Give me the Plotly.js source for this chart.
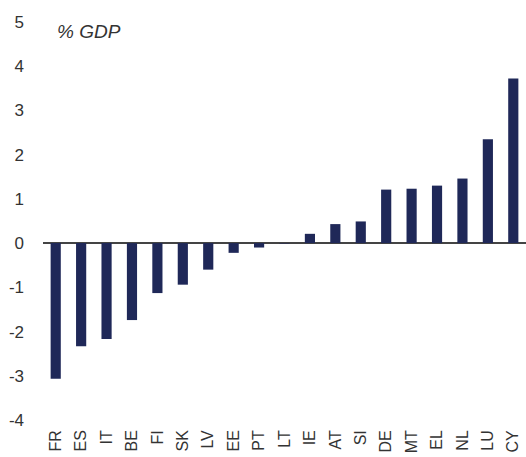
<!DOCTYPE html>
<html>
<head>
<meta charset="utf-8">
<script src="https://cdn.plot.ly/plotly-3.0.1.min.js"></script>
<style>html,body{margin:0;padding:0;background:#fff;}#chart{width:526px;height:457px;}</style>
</head>
<body>
<div id="chart"></div>
<script>
const countries = ["FR","ES","IT","BE","FI","SK","LV","EE","PT","LT","IE","AT","SI","DE","MT","EL","NL","LU","CY"];
const values = [-3.07,-2.33,-2.17,-1.74,-1.13,-0.94,-0.6,-0.22,-0.1,-0.01,0.21,0.43,0.49,1.21,1.23,1.3,1.46,2.35,3.72];
const yTicks = [-4,-3,-2,-1,0,1,2,3,4,5];
const unitLabel = "% GDP";

const trace = {
  type: "bar",
  x: countries,
  y: values,
  marker: {color: "#1f2858", line: {width: 0}},
  width: 0.4,
  hoverinfo: "x+y"
};

const layout = {
  width: 526, height: 457,
  margin: {l: 43, r: 0, t: 22, b: 37},
  paper_bgcolor: "#fff", plot_bgcolor: "#fff",
  font: {family: "Liberation Sans, Arial, sans-serif", size: 17, color: "#333"},
  showlegend: false,
  bargap: 0.6,
  xaxis: {
    type: "category",
    tickangle: -90,
    showgrid: false, showline: false, zeroline: false,
    ticks: "", ticklabelstandoff: 6,
    automargin: false,
    tickfont: {size: 16, color: "#333"}
  },
  yaxis: {
    range: [-4, 5],
    tickvals: yTicks,
    ticktext: yTicks.map(String),
    showgrid: false, showline: false,
    zeroline: true, zerolinecolor: "#444", zerolinewidth: 1.6,
    ticks: "", ticklabelstandoff: 18,
    automargin: false,
    tickfont: {size: 17, color: "#333"}
  },
  annotations: [{
    text: unitLabel,
    xref: "paper", yref: "paper",
    x: 0.025, y: 0.975, xanchor: "left", yanchor: "middle",
    showarrow: false,
    font: {size: 19, style: "italic", color: "#333"}
  }]
};

Plotly.newPlot("chart", [trace], layout, {displayModeBar: false, staticPlot: true});
</script>
</body>
</html>
